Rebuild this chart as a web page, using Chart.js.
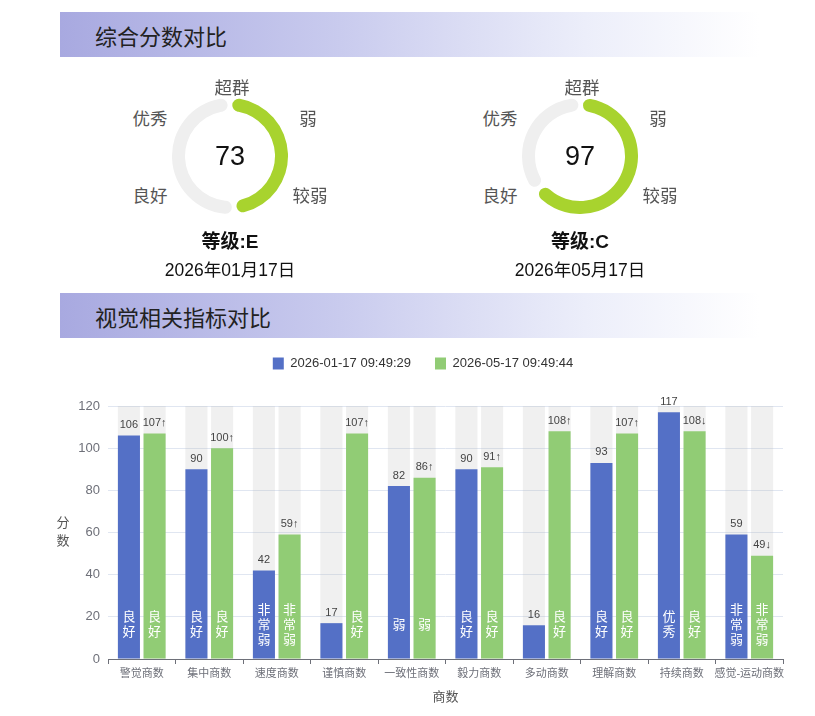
<!DOCTYPE html>
<html>
<head>
<meta charset="utf-8">
<script src="https://cdn.jsdelivr.net/npm/chart.js@4/dist/chart.umd.min.js"></script>
<style>
  html, body { margin: 0; padding: 0; background: #fff; }
  body { width: 815px; height: 716px; position: relative; overflow: hidden;
         font-family: "Liberation Sans", "Noto Sans CJK SC", sans-serif; }
  .band { position: absolute; left: 60px; width: 700px; height: 45px;
          background: linear-gradient(to right, #a8a9e0 0%, #c9cbee 40%, #eceefa 75%, #ffffff 100%); }
  .band span { position: absolute; left: 35px; top: 50%; transform: translateY(-50%);
               font-size: 22px; color: #222; }
  .abs { position: absolute; white-space: nowrap; transform: translate(-50%, -50%); }
  .lvl { font-size: 17.5px; color: #555; }
  .num { font-size: 27px; color: #111; }
  .grade { font-size: 19px; font-weight: bold; color: #111; }
  .date { font-size: 17.5px; color: #111; }
  .gauge { position: absolute; width: 116px; height: 116px; }
  #barBox { position: absolute; left: 40px; top: 320px; width: 775px; height: 396px; }
</style>
</head>
<body>
<div class="band" style="top:12px"><span>综合分数对比</span></div>
<div class="band" style="top:293px"><span>视觉相关指标对比</span></div>
<div id="gauges"></div>
<div id="barBox"><canvas id="barChart"></canvas></div>
<script>
// overall scores
const gaugeScores = [73, 97];
const gaugeMax = 150;
const gaugeGrades = ['E', 'C'];
const gaugeDates = ['2026年01月17日', '2026年05月17日'];
const gaugeLevels = ['超群', '弱', '较弱', '良好', '优秀'];

// indicator comparison
const categories = ['警觉商数', '集中商数', '速度商数', '谨慎商数', '一致性商数',
                    '毅力商数', '多动商数', '理解商数', '持续商数', '感觉-运动商数'];
const seriesNames = ['2026-01-17 09:49:29', '2026-05-17 09:49:44'];
const janScores = [106, 90, 42, 17, 82, 90, 16, 93, 117, 59];
const mayScores = [107, 100, 59, 107, 86, 91, 108, 107, 108, 49];
const janLevels = ['良好', '良好', '非常弱', '', '弱', '良好', '', '良好', '优秀', '非常弱'];
const mayLevels = ['良好', '良好', '非常弱', '良好', '弱', '良好', '良好', '良好', '良好', '非常弱'];
const yMax = 120;
const yStep = 20;

const FONT = '"Liberation Sans", "Noto Sans CJK SC", sans-serif';
Chart.defaults.font.family = FONT;

// ---- gauges ----
const gaugeCenters = [[230, 156], [580, 156]];
const lvlOffsets = [[2, -70], [78, -39], [80, 38], [-80, 38], [-80, -39]];
const host = document.getElementById('gauges');

gaugeScores.forEach((score, i) => {
  const [cx, cy] = gaugeCenters[i];
  const box = document.createElement('div');
  box.className = 'gauge';
  box.style.left = (cx - 58) + 'px';
  box.style.top = (cy - 58) + 'px';
  const cv = document.createElement('canvas');
  box.appendChild(cv);
  host.appendChild(box);

  new Chart(cv, {
    type: 'doughnut',
    data: {
      labels: ['score', 'rest'],
      datasets: [{
        data: [score, gaugeMax - score],
        backgroundColor: ['#a8d32e', '#efefef'],
        borderWidth: 0,
        borderRadius: 7,
        spacing: 3
      }]
    },
    options: {
      responsive: true,
      maintainAspectRatio: false,
      animation: false,
      cutout: '77%',
      events: [],
      plugins: { legend: { display: false }, tooltip: { enabled: false } }
    }
  });

  const add = (cls, text, x, y) => {
    const d = document.createElement('div');
    d.className = 'abs ' + cls;
    d.textContent = text;
    d.style.left = x + 'px';
    d.style.top = y + 'px';
    host.appendChild(d);
  };
  gaugeLevels.forEach((t, k) => add('lvl', t, cx + lvlOffsets[k][0], cy + lvlOffsets[k][1]));
  add('num', String(score), cx, cy);
  add('grade', '等级:' + gaugeGrades[i], cx, cy + 83);
  add('date', gaugeDates[i], cx, cy + 112);
});

// ---- bar chart ----
const barDecor = {
  id: 'barDecor',
  beforeInit(chart) {
    const fit = chart.legend.fit;
    chart.legend.fit = function () { fit.call(this); this.height += 26; };
  },
  beforeDatasetsDraw(chart) {
    const { ctx, chartArea } = chart;
    ctx.save();
    ctx.fillStyle = 'rgba(180,180,180,0.2)';
    chart.data.datasets.forEach((ds, i) => {
      chart.getDatasetMeta(i).data.forEach(bar => {
        ctx.fillRect(bar.x - bar.width / 2, chartArea.top, bar.width, chartArea.bottom - chartArea.top);
      });
    });
    ctx.restore();
  },
  afterDatasetsDraw(chart) {
    const { ctx, chartArea } = chart;
    const base = chart.scales.y.getPixelForValue(0);
    ctx.save();
    ctx.textAlign = 'center';
    chart.data.datasets.forEach((ds, i) => {
      chart.getDatasetMeta(i).data.forEach((bar, j) => {
        const v = ds.data[j];
        let txt = String(v);
        if (i === 1) {
          const prev = chart.data.datasets[0].data[j];
          txt += v > prev ? '↑' : (v < prev ? '↓' : '');
        }
        ctx.font = '11px ' + FONT;
        ctx.fillStyle = '#444';
        ctx.textBaseline = 'bottom';
        ctx.fillText(txt, bar.x, bar.y - 5);

        const lvl = ds.levels[j];
        if (lvl) {
          ctx.font = '13px ' + FONT;
          ctx.fillStyle = '#fff';
          ctx.textBaseline = 'middle';
          const chars = Array.from(lvl);
          const lh = 15;
          const mid = base - 34;
          chars.forEach((c, k) => {
            ctx.fillText(c, bar.x, mid + (k - (chars.length - 1) / 2) * lh);
          });
        }
      });
    });
    // vertical y-axis title
    ctx.font = '13px ' + FONT;
    ctx.fillStyle = '#555';
    ctx.textBaseline = 'middle';
    const midY = (chartArea.top + chartArea.bottom) / 2;
    ctx.fillText('分', chartArea.left - 45, midY - 9);
    ctx.fillText('数', chartArea.left - 45, midY + 9);
    ctx.restore();
  }
};

new Chart(document.getElementById('barChart'), {
  type: 'bar',
  data: {
    labels: categories,
    datasets: [
      { label: seriesNames[0], data: janScores, levels: janLevels,
        backgroundColor: '#5470c6', categoryPercentage: 0.76, barPercentage: 0.86 },
      { label: seriesNames[1], data: mayScores, levels: mayLevels,
        backgroundColor: '#91cc75', categoryPercentage: 0.76, barPercentage: 0.86 }
    ]
  },
  options: {
    responsive: true,
    maintainAspectRatio: false,
    animation: false,
    events: [],
    layout: { padding: { top: 13, right: 32, left: 23, bottom: 0 } },
    plugins: {
      legend: {
        position: 'top',
        labels: { boxWidth: 11, boxHeight: 12, padding: 24, color: '#333',
                  font: { size: 13 } }
      },
      tooltip: { enabled: false }
    },
    scales: {
      x: {
        grid: { display: true, offset: true, drawOnChartArea: false, drawTicks: true,
                tickLength: 5, color: '#6e7079' },
        border: { display: true, color: '#6e7079' },
        ticks: { color: '#6e7079', font: { size: 11 }, maxRotation: 0, autoSkip: false, padding: 3 },
        title: { display: true, text: '商数', color: '#555', font: { size: 13 },
                 padding: { top: 0, bottom: 11 } },
        afterFit(s) { s.height = 57; }
      },
      y: {
        min: 0,
        max: yMax,
        ticks: { stepSize: yStep, color: '#6e7079', font: { size: 13 }, padding: 8 },
        grid: { color: '#e0e6f1', drawTicks: false },
        border: { display: false },
        afterFit(s) { s.width = 45; }
      }
    }
  },
  plugins: [barDecor]
});
</script>
</body>
</html>
